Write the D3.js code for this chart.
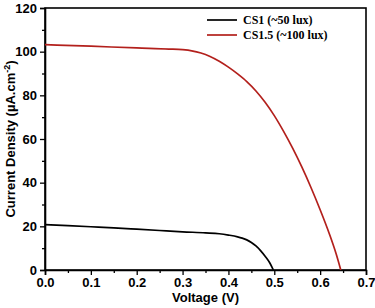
<!DOCTYPE html>
<html>
<head>
<meta charset="utf-8">
<script src="https://cdn.jsdelivr.net/npm/d3@7"></script>
<style>
  body { margin: 0; background: #fff; }
  svg { display: block; }
</style>
</head>
<body>
<svg width="375" height="308"></svg>
<script>
// J-V curves
const seriesNames = ["CS1 (~50 lux)", "CS1.5 (~100 lux)"];
const seriesColors = ["#000000", "#b3201c"];

const cs1Voltage = [0, 0.05, 0.1, 0.15, 0.2, 0.25, 0.3, 0.35, 0.38, 0.4, 0.42, 0.43, 0.44, 0.45, 0.46, 0.47, 0.48, 0.49, 0.498];
const cs1Current = [20.8, 20.3, 19.8, 19.3, 18.7, 18.1, 17.5, 17.0, 16.6, 16.0, 15.2, 14.6, 13.8, 12.6, 11.0, 8.9, 6.3, 3.3, 0];

const cs15Voltage = [0, 0.1, 0.2, 0.27, 0.3, 0.32, 0.34, 0.36, 0.38, 0.4, 0.42, 0.44, 0.46, 0.48, 0.5, 0.52, 0.54, 0.56, 0.58, 0.6, 0.62, 0.635, 0.645];
const cs15Current = [103.2, 102.5, 101.7, 101.2, 100.9, 100.4, 99.4, 97.8, 95.6, 92.9, 89.8, 86.3, 82.0, 76.8, 70.7, 63.6, 55.8, 47.2, 37.8, 27.6, 16.6, 7.3, 0];

const xTicks = [0, 0.1, 0.2, 0.3, 0.4, 0.5, 0.6, 0.7];
const yTicks = [0, 20, 40, 60, 80, 100, 120];

const svg = d3.select("svg");
const margin = {top: 8, right: 9, bottom: 38, left: 45};
const width = +svg.attr("width"), height = +svg.attr("height");

const x = d3.scaleLinear().domain([0, 0.7]).range([margin.left, width - margin.right]);
const y = d3.scaleLinear().domain([0, 120]).range([height - margin.bottom, margin.top]);

// frame
svg.append("rect")
  .attr("x", x(0)).attr("y", y(120))
  .attr("width", x(0.7) - x(0)).attr("height", y(0) - y(120))
  .attr("fill", "none").attr("stroke", "#000").attr("stroke-width", 1.6);

const tickFont = "'Liberation Sans', Arial, sans-serif";

// x axis, major + minor
svg.append("g").attr("transform", `translate(0,${y(0)})`)
  .call(d3.axisBottom(x).tickValues(xTicks).tickFormat(d3.format(".1f")).tickSize(5).tickPadding(3));
svg.append("g").attr("transform", `translate(0,${y(0)})`)
  .call(d3.axisBottom(x).tickValues(d3.range(0.05, 0.7, 0.1)).tickFormat("").tickSize(3))
  .select(".domain").remove();

svg.append("g").attr("transform", `translate(${x(0)},0)`)
  .call(d3.axisLeft(y).tickValues(yTicks).tickSize(5).tickPadding(3));
svg.append("g").attr("transform", `translate(${x(0)},0)`)
  .call(d3.axisLeft(y).tickValues(d3.range(10, 120, 20)).tickFormat("").tickSize(3))
  .select(".domain").remove();

svg.selectAll(".domain").attr("stroke-width", 1.6);
svg.selectAll(".tick line").attr("stroke-width", 1.3);
svg.selectAll(".tick text")
  .attr("font-family", tickFont).attr("font-weight", "bold")
  .attr("font-size", 13).attr("fill", "#000");

// axis titles
svg.append("text")
  .attr("x", (x(0) + x(0.7)) / 2).attr("y", 302)
  .attr("text-anchor", "middle")
  .attr("font-family", tickFont).attr("font-weight", "bold").attr("font-size", 13)
  .text("Voltage (V)");

const yt = svg.append("text")
  .attr("transform", `translate(15,${(y(0) + y(120)) / 2}) rotate(-90)`)
  .attr("text-anchor", "middle")
  .attr("font-family", tickFont).attr("font-weight", "bold").attr("font-size", 13);
yt.append("tspan").text("Current Density (µA.cm");
yt.append("tspan").attr("dy", -5).attr("font-size", 9).text("-2");
yt.append("tspan").attr("dy", 5).text(")");

// curves
const line = d3.line().x(d => x(d[0])).y(d => y(d[1])).curve(d3.curveMonotoneX);
const series = [
  d3.zip(cs1Voltage, cs1Current),
  d3.zip(cs15Voltage, cs15Current)
];
series.forEach((pts, i) => {
  svg.append("path").datum(pts)
    .attr("fill", "none").attr("stroke", seriesColors[i])
    .attr("stroke-width", 1.7).attr("d", line);
});

// legend
const legend = svg.append("g").attr("transform", "translate(207,20)");
seriesNames.forEach((name, i) => {
  const g = legend.append("g").attr("transform", `translate(0,${i * 15})`);
  g.append("line").attr("x1", 0).attr("x2", 30)
    .attr("stroke", seriesColors[i]).attr("stroke-width", 1.7);
  g.append("text").attr("x", 36).attr("y", 4)
    .attr("font-family", "'Liberation Serif', 'Times New Roman', serif")
    .attr("font-weight", "bold").attr("font-size", 12)
    .text(name);
});
</script>
</body>
</html>
